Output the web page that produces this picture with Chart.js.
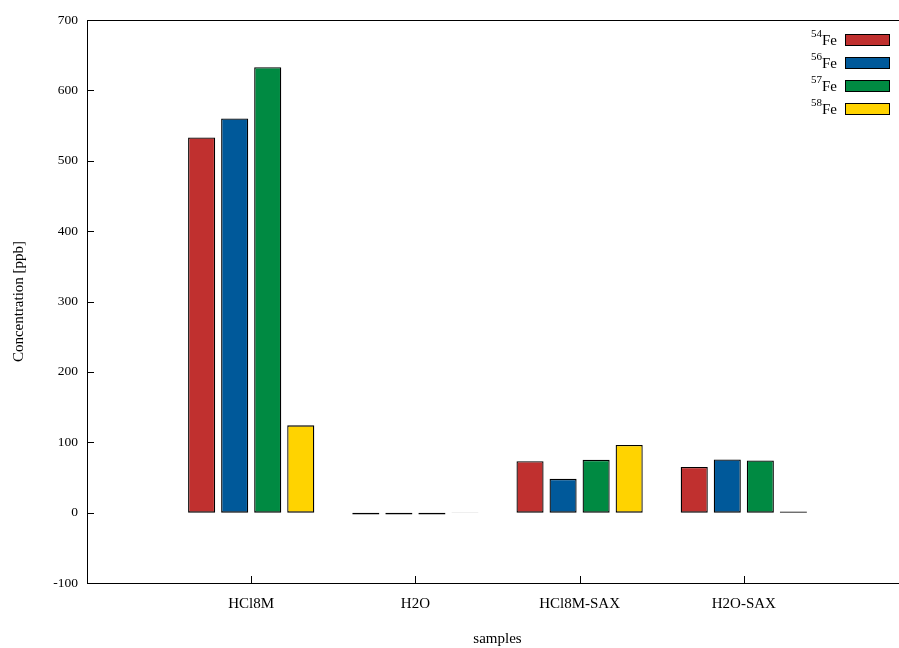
<!DOCTYPE html>
<html>
<head>
<meta charset="utf-8">
<script src="https://cdn.jsdelivr.net/npm/chart.js@4"></script>
<style>
html, body { margin: 0; padding: 0; overflow: hidden; background: #fff; }
#grafico { display: block; }
</style>
</head>
<body>
<canvas id="grafico" width="920" height="648"></canvas>
<script>
// rotulos das amostras (posicoes vazias nas pontas, como no gnuplot)
var amostras = ['', 'HCl8M', 'H2O', 'HCl8M-SAX', 'H2O-SAX', ''];
// numeros de massa dos isotopos
var isotopos = ['54', '56', '57', '58'];
// concentracoes em ppb
var fe54 = [null, 533, -2.5, 73, 65, null];
var fe56 = [null, 560, -2.5, 48, 75.5, null];
var fe57 = [null, 633, -2.5, 75, 74, null];
var fe58 = [null, 124, -0.5, 96, 1.5, null];
var cores = ['#c0302f', '#00599a', '#008a42', '#ffd300'];
var ticksY = [-100, 0, 100, 200, 300, 400, 500, 600, 700];

var familia = '"Liberation Serif", "Times New Roman", serif';
var fonte = { family: familia, size: 15 };
var fonteY = { family: familia, size: 13.5 };

var series = [fe54, fe56, fe57, fe58];
var datasets = series.map(function (valores, i) {
    return {
        label: isotopos[i] + 'Fe',
        data: valores,
        backgroundColor: cores[i],
        borderColor: '#000',
        borderWidth: 1.3,
        borderSkipped: false,
        categoryPercentage: 0.805,
        barPercentage: 0.82
    };
});

// moldura, marcas internas e legenda no estilo gnuplot
var moldura = {
    id: 'moldura',
    afterDraw: function (chart) {
        var ctx = chart.ctx, a = chart.chartArea;
        var sx = chart.scales.x, sy = chart.scales.y;
        ctx.save();
        ctx.strokeStyle = '#000';
        ctx.lineWidth = 1;
        ctx.strokeRect(Math.round(a.left) + 0.5, Math.round(a.top) + 0.5,
            Math.round(a.right - a.left), Math.round(a.bottom - a.top));
        ctx.beginPath();
        ticksY.forEach(function (v) {
            var py = Math.round(sy.getPixelForValue(v)) + 0.5;
            ctx.moveTo(a.left, py);
            ctx.lineTo(a.left + 7, py);
        });
        amostras.forEach(function (nome, i) {
            if (!nome) return;
            var px = Math.round(sx.getPixelForValue(i)) + 0.5;
            ctx.moveTo(px, a.bottom);
            ctx.lineTo(px, a.bottom - 7);
        });
        ctx.stroke();

        // legenda
        chart.data.datasets.forEach(function (ds, i) {
            var cy = 40 + i * 23;
            ctx.fillStyle = ds.backgroundColor;
            ctx.fillRect(845, cy - 6, 45, 12);
            ctx.strokeRect(845.5, cy - 5.5, 44, 11);
            ctx.fillStyle = '#000';
            ctx.textAlign = 'right';
            ctx.textBaseline = 'alphabetic';
            ctx.font = '15px ' + familia;
            ctx.fillText('Fe', 837, cy + 5);
            var w = ctx.measureText('Fe').width;
            ctx.font = '11px ' + familia;
            ctx.fillText(isotopos[i], 837 - w, cy - 3);
        });
        ctx.restore();
    }
};

var ctx = document.querySelector('#grafico').getContext('2d');
var grafico = new Chart(ctx, {
    type: 'bar',
    data: { labels: amostras, datasets: datasets },
    options: {
        responsive: false,
        animation: false,
        layout: { padding: { top: 20, right: 5, left: 0, bottom: 0 } },
        plugins: { legend: { display: false }, tooltip: { enabled: false } },
        scales: {
            x: {
                offset: false,
                grid: { display: false, drawTicks: false },
                border: { display: false },
                ticks: { color: '#000', font: fonte, padding: 12, maxRotation: 0, autoSkip: false },
                title: { display: true, text: 'samples', color: '#000', font: fonte, padding: { top: 0, bottom: 0 } },
                afterFit: function (s) { s.height = 65; }
            },
            y: {
                min: -100,
                max: 700,
                grid: { display: false, drawTicks: false },
                border: { display: false },
                ticks: { stepSize: 100, color: '#000', font: fonteY, padding: 9 },
                title: { display: true, text: 'Concentration [ppb]', color: '#000', font: fonte, padding: { top: 10, bottom: 0 } },
                afterFit: function (s) { s.width = 87; }
            }
        }
    },
    plugins: [moldura]
});
</script>
</body>
</html>
